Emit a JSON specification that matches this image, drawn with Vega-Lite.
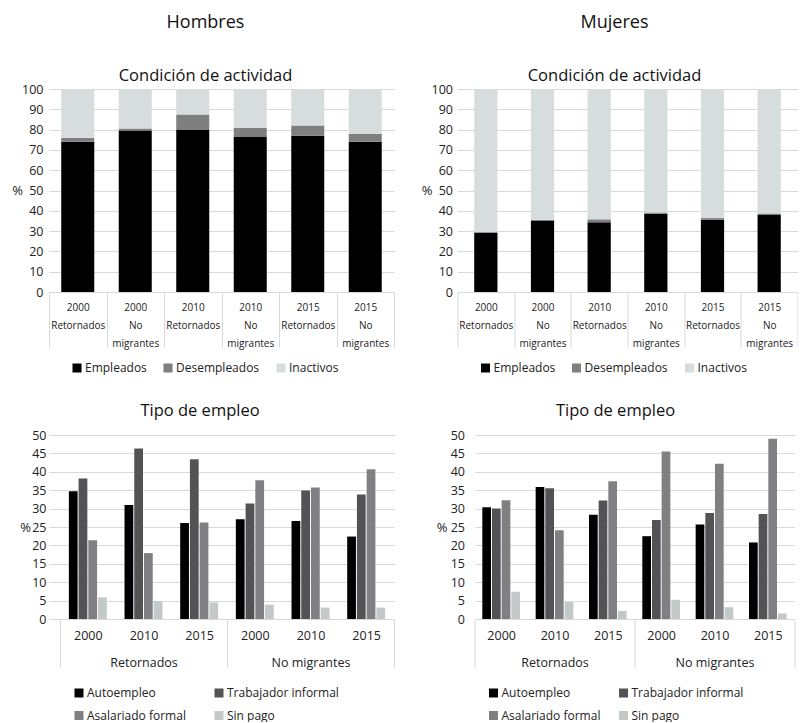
{
  "$schema": "https://vega.github.io/schema/vega-lite/v6.json",
  "padding": {"left": 11, "top": 13, "right": 0, "bottom": 0},
  "config": {
    "font": "Open Sans",
    "view": {"stroke": null},
    "axis": {"labelFont": "Open Sans", "titleFont": "Open Sans", "labelColor": "#222222", "titleColor": "#222222", "gridColor": "#d9d9d9", "gridWidth": 1},
    "legend": {"labelFont": "Open Sans", "labelColor": "#222222"},
    "title": {"font": "Open Sans", "subtitleFont": "Open Sans", "color": "#111111", "subtitleColor": "#111111", "fontWeight": "normal", "anchor": "middle", "frame": "group"}
  },
  "datasets": {
    "act_h": [
      {"anio": "2000", "grupo": "Retornados", "estado": "Empleados", "pct": 74.0},
      {"anio": "2000", "grupo": "Retornados", "estado": "Desempleados", "pct": 2.0},
      {"anio": "2000", "grupo": "Retornados", "estado": "Inactivos", "pct": 24.0},
      {"anio": "2000", "grupo": "No migrantes", "estado": "Empleados", "pct": 79.5},
      {"anio": "2000", "grupo": "No migrantes", "estado": "Desempleados", "pct": 1.0},
      {"anio": "2000", "grupo": "No migrantes", "estado": "Inactivos", "pct": 19.5},
      {"anio": "2010", "grupo": "Retornados", "estado": "Empleados", "pct": 80.0},
      {"anio": "2010", "grupo": "Retornados", "estado": "Desempleados", "pct": 7.5},
      {"anio": "2010", "grupo": "Retornados", "estado": "Inactivos", "pct": 12.5},
      {"anio": "2010", "grupo": "No migrantes", "estado": "Empleados", "pct": 76.3},
      {"anio": "2010", "grupo": "No migrantes", "estado": "Desempleados", "pct": 4.5},
      {"anio": "2010", "grupo": "No migrantes", "estado": "Inactivos", "pct": 19.2},
      {"anio": "2015", "grupo": "Retornados", "estado": "Empleados", "pct": 77.0},
      {"anio": "2015", "grupo": "Retornados", "estado": "Desempleados", "pct": 5.0},
      {"anio": "2015", "grupo": "Retornados", "estado": "Inactivos", "pct": 18.0},
      {"anio": "2015", "grupo": "No migrantes", "estado": "Empleados", "pct": 74.0},
      {"anio": "2015", "grupo": "No migrantes", "estado": "Desempleados", "pct": 4.0},
      {"anio": "2015", "grupo": "No migrantes", "estado": "Inactivos", "pct": 22.0}
    ],
    "act_m": [
      {"anio": "2000", "grupo": "Retornados", "estado": "Empleados", "pct": 29.1},
      {"anio": "2000", "grupo": "Retornados", "estado": "Desempleados", "pct": 0.4},
      {"anio": "2000", "grupo": "Retornados", "estado": "Inactivos", "pct": 70.5},
      {"anio": "2000", "grupo": "No migrantes", "estado": "Empleados", "pct": 35.2},
      {"anio": "2000", "grupo": "No migrantes", "estado": "Desempleados", "pct": 0.4},
      {"anio": "2000", "grupo": "No migrantes", "estado": "Inactivos", "pct": 64.4},
      {"anio": "2010", "grupo": "Retornados", "estado": "Empleados", "pct": 34.3},
      {"anio": "2010", "grupo": "Retornados", "estado": "Desempleados", "pct": 1.5},
      {"anio": "2010", "grupo": "Retornados", "estado": "Inactivos", "pct": 64.2},
      {"anio": "2010", "grupo": "No migrantes", "estado": "Empleados", "pct": 38.6},
      {"anio": "2010", "grupo": "No migrantes", "estado": "Desempleados", "pct": 0.6},
      {"anio": "2010", "grupo": "No migrantes", "estado": "Inactivos", "pct": 60.8},
      {"anio": "2015", "grupo": "Retornados", "estado": "Empleados", "pct": 35.5},
      {"anio": "2015", "grupo": "Retornados", "estado": "Desempleados", "pct": 0.9},
      {"anio": "2015", "grupo": "Retornados", "estado": "Inactivos", "pct": 63.6},
      {"anio": "2015", "grupo": "No migrantes", "estado": "Empleados", "pct": 37.9},
      {"anio": "2015", "grupo": "No migrantes", "estado": "Desempleados", "pct": 0.8},
      {"anio": "2015", "grupo": "No migrantes", "estado": "Inactivos", "pct": 61.3}
    ],
    "tipo_h": [
      {"grupo": "Retornados", "anio": "2000", "tipo": "Autoempleo", "pct": 34.7},
      {"grupo": "Retornados", "anio": "2000", "tipo": "Trabajador informal", "pct": 38.2},
      {"grupo": "Retornados", "anio": "2000", "tipo": "Asalariado formal", "pct": 21.4},
      {"grupo": "Retornados", "anio": "2000", "tipo": "Sin pago", "pct": 5.9},
      {"grupo": "Retornados", "anio": "2010", "tipo": "Autoempleo", "pct": 31.0},
      {"grupo": "Retornados", "anio": "2010", "tipo": "Trabajador informal", "pct": 46.3},
      {"grupo": "Retornados", "anio": "2010", "tipo": "Asalariado formal", "pct": 17.9},
      {"grupo": "Retornados", "anio": "2010", "tipo": "Sin pago", "pct": 4.9},
      {"grupo": "Retornados", "anio": "2015", "tipo": "Autoempleo", "pct": 26.1},
      {"grupo": "Retornados", "anio": "2015", "tipo": "Trabajador informal", "pct": 43.4},
      {"grupo": "Retornados", "anio": "2015", "tipo": "Asalariado formal", "pct": 26.2},
      {"grupo": "Retornados", "anio": "2015", "tipo": "Sin pago", "pct": 4.5},
      {"grupo": "No migrantes", "anio": "2000", "tipo": "Autoempleo", "pct": 27.1},
      {"grupo": "No migrantes", "anio": "2000", "tipo": "Trabajador informal", "pct": 31.4},
      {"grupo": "No migrantes", "anio": "2000", "tipo": "Asalariado formal", "pct": 37.7},
      {"grupo": "No migrantes", "anio": "2000", "tipo": "Sin pago", "pct": 3.9},
      {"grupo": "No migrantes", "anio": "2010", "tipo": "Autoempleo", "pct": 26.6},
      {"grupo": "No migrantes", "anio": "2010", "tipo": "Trabajador informal", "pct": 34.9},
      {"grupo": "No migrantes", "anio": "2010", "tipo": "Asalariado formal", "pct": 35.7},
      {"grupo": "No migrantes", "anio": "2010", "tipo": "Sin pago", "pct": 3.1},
      {"grupo": "No migrantes", "anio": "2015", "tipo": "Autoempleo", "pct": 22.4},
      {"grupo": "No migrantes", "anio": "2015", "tipo": "Trabajador informal", "pct": 33.8},
      {"grupo": "No migrantes", "anio": "2015", "tipo": "Asalariado formal", "pct": 40.7},
      {"grupo": "No migrantes", "anio": "2015", "tipo": "Sin pago", "pct": 3.1}
    ],
    "tipo_m": [
      {"grupo": "Retornados", "anio": "2000", "tipo": "Autoempleo", "pct": 30.4},
      {"grupo": "Retornados", "anio": "2000", "tipo": "Trabajador informal", "pct": 30.0},
      {"grupo": "Retornados", "anio": "2000", "tipo": "Asalariado formal", "pct": 32.3},
      {"grupo": "Retornados", "anio": "2000", "tipo": "Sin pago", "pct": 7.4},
      {"grupo": "Retornados", "anio": "2010", "tipo": "Autoempleo", "pct": 35.9},
      {"grupo": "Retornados", "anio": "2010", "tipo": "Trabajador informal", "pct": 35.5},
      {"grupo": "Retornados", "anio": "2010", "tipo": "Asalariado formal", "pct": 24.1},
      {"grupo": "Retornados", "anio": "2010", "tipo": "Sin pago", "pct": 4.6},
      {"grupo": "Retornados", "anio": "2015", "tipo": "Autoempleo", "pct": 28.3},
      {"grupo": "Retornados", "anio": "2015", "tipo": "Trabajador informal", "pct": 32.2},
      {"grupo": "Retornados", "anio": "2015", "tipo": "Asalariado formal", "pct": 37.4},
      {"grupo": "Retornados", "anio": "2015", "tipo": "Sin pago", "pct": 2.2},
      {"grupo": "No migrantes", "anio": "2000", "tipo": "Autoempleo", "pct": 22.5},
      {"grupo": "No migrantes", "anio": "2000", "tipo": "Trabajador informal", "pct": 26.9},
      {"grupo": "No migrantes", "anio": "2000", "tipo": "Asalariado formal", "pct": 45.5},
      {"grupo": "No migrantes", "anio": "2000", "tipo": "Sin pago", "pct": 5.2},
      {"grupo": "No migrantes", "anio": "2010", "tipo": "Autoempleo", "pct": 25.7},
      {"grupo": "No migrantes", "anio": "2010", "tipo": "Trabajador informal", "pct": 28.8},
      {"grupo": "No migrantes", "anio": "2010", "tipo": "Asalariado formal", "pct": 42.2},
      {"grupo": "No migrantes", "anio": "2010", "tipo": "Sin pago", "pct": 3.2},
      {"grupo": "No migrantes", "anio": "2015", "tipo": "Autoempleo", "pct": 20.8},
      {"grupo": "No migrantes", "anio": "2015", "tipo": "Trabajador informal", "pct": 28.5},
      {"grupo": "No migrantes", "anio": "2015", "tipo": "Asalariado formal", "pct": 49.0},
      {"grupo": "No migrantes", "anio": "2015", "tipo": "Sin pago", "pct": 1.5}
    ]
  },
  "align": "none",
  "spacing": 29,
  "resolve": {"scale": {"color": "independent", "x": "independent", "y": "independent", "xOffset": "independent"}, "legend": {"color": "independent"}},
  "vconcat": [
    {
      "spacing": 25.5,
      "resolve": {"scale": {"color": "independent", "x": "independent", "y": "independent"}, "legend": {"color": "independent"}},
      "hconcat": [
        {
          "width": 345,
          "height": 203,
          "title": {"text": "Hombres", "subtitle": "Condición de actividad", "fontSize": 18, "subtitleFontSize": 16.5, "subtitlePadding": 36, "offset": -1, "dx": -16},
          "data": {"name": "act_h"},
          "transform": [
            {"calculate": "datum.anio + '|' + datum.grupo", "as": "cat"},
            {"calculate": "datum.estado == 'Empleados' ? 0 : (datum.estado == 'Desempleados' ? 1 : 2)", "as": "orden"}
          ],
          "mark": {"type": "bar", "width": {"band": 0.574}},
          "encoding": {
            "x": {
              "field": "cat", "type": "nominal",
              "sort": ["2000|Retornados", "2000|No migrantes", "2010|Retornados", "2010|No migrantes", "2015|Retornados", "2015|No migrantes"],
              "scale": {"paddingInner": 0, "paddingOuter": 0},
              "axis": {
                "title": null, "labelAngle": 0, "labelOverlap": false,
                "domainColor": "#d9d9d9", "tickColor": "#d9d9d9", "tickBand": "extent", "tickSize": 55,
                "labelPadding": -44.5, "labelFontSize": 10, "labelLineHeight": 18, "labelBaseline": "top",
                "labelExpr": "datum.value == null ? '' : (split(datum.value, '|')[1] == 'No migrantes' ? [split(datum.value, '|')[0], 'No', 'migrantes'] : [split(datum.value, '|')[0], 'Retornados'])"
              }
            },
            "y": {
              "field": "pct", "type": "quantitative", "stack": "zero",
              "scale": {"domain": [0, 100], "nice": false},
              "axis": {
                "title": "%", "titleAngle": 0, "titleX": -32, "titleY": 101.5, "titleAlign": "center", "titleBaseline": "middle",
                "titleFontSize": 13, "titleFontWeight": "normal",
                "values": [0, 10, 20, 30, 40, 50, 60, 70, 80, 90, 100],
                "labelFontSize": 12.5, "labelPadding": 6, "domain": false, "ticks": false
              }
            },
            "color": {
              "field": "estado", "type": "nominal",
              "scale": {"domain": ["Empleados", "Desempleados", "Inactivos"], "range": ["#000000", "#7f7f7f", "#d7dcdc"]},
              "legend": {"title": null, "orient": "none", "legendX": 22, "legendY": 273, "direction": "horizontal", "symbolType": "square", "symbolSize": 81, "symbolStrokeWidth": 0, "labelFontSize": 12, "labelOffset": 2, "columnPadding": 15, "padding": 0}
            },
            "order": {"field": "orden", "type": "quantitative"}
          }
        },
        {
          "width": 340,
          "height": 203,
          "title": {"text": "Mujeres", "subtitle": "Condición de actividad", "fontSize": 18, "subtitleFontSize": 16.5, "subtitlePadding": 36, "offset": -1, "dx": -13},
          "data": {"name": "act_m"},
          "transform": [
            {"calculate": "datum.anio + '|' + datum.grupo", "as": "cat"},
            {"calculate": "datum.estado == 'Empleados' ? 0 : (datum.estado == 'Desempleados' ? 1 : 2)", "as": "orden"}
          ],
          "mark": {"type": "bar", "width": {"band": 0.41}},
          "encoding": {
            "x": {
              "field": "cat", "type": "nominal",
              "sort": ["2000|Retornados", "2000|No migrantes", "2010|Retornados", "2010|No migrantes", "2015|Retornados", "2015|No migrantes"],
              "scale": {"paddingInner": 0, "paddingOuter": 0},
              "axis": {
                "title": null, "labelAngle": 0, "labelOverlap": false,
                "domainColor": "#d9d9d9", "tickColor": "#d9d9d9", "tickBand": "extent", "tickSize": 55,
                "labelPadding": -44.5, "labelFontSize": 10, "labelLineHeight": 18, "labelBaseline": "top",
                "labelExpr": "datum.value == null ? '' : (split(datum.value, '|')[1] == 'No migrantes' ? [split(datum.value, '|')[0], 'No', 'migrantes'] : [split(datum.value, '|')[0], 'Retornados'])"
              }
            },
            "y": {
              "field": "pct", "type": "quantitative", "stack": "zero",
              "scale": {"domain": [0, 100], "nice": false},
              "axis": {
                "title": "%", "titleAngle": 0, "titleX": -31, "titleY": 101.5, "titleAlign": "center", "titleBaseline": "middle",
                "titleFontSize": 13, "titleFontWeight": "normal",
                "values": [0, 10, 20, 30, 40, 50, 60, 70, 80, 90, 100],
                "labelFontSize": 12.5, "labelPadding": 5, "domain": false, "ticks": false
              }
            },
            "color": {
              "field": "estado", "type": "nominal",
              "scale": {"domain": ["Empleados", "Desempleados", "Inactivos"], "range": ["#000000", "#7f7f7f", "#d7dcdc"]},
              "legend": {"title": null, "orient": "none", "legendX": 22, "legendY": 273, "direction": "horizontal", "symbolType": "square", "symbolSize": 81, "symbolStrokeWidth": 0, "labelFontSize": 12, "labelOffset": 2, "columnPadding": 15, "padding": 0}
            },
            "order": {"field": "orden", "type": "quantitative"}
          }
        }
      ]
    },
    {
      "spacing": 40.5,
      "resolve": {"scale": {"color": "independent", "x": "independent", "y": "independent", "xOffset": "independent"}, "legend": {"color": "independent"}},
      "hconcat": [
        {
          "width": 345,
          "height": 184,
          "title": {"text": "Tipo de empleo", "fontSize": 16.5, "offset": 9.5, "dx": -21.5},
          "data": {"name": "tipo_h"},
          "transform": [{"calculate": "datum.grupo + '|' + datum.anio", "as": "cat"}],
          "mark": {"type": "bar"},
          "encoding": {
            "x": {
              "field": "cat", "type": "nominal",
              "sort": ["Retornados|2000", "Retornados|2010", "Retornados|2015", "No migrantes|2000", "No migrantes|2010", "No migrantes|2015"],
              "scale": {"paddingInner": 0, "paddingOuter": 0.0988, "align": 1},
              "axis": {
                "title": null, "labelAngle": 0, "labelOverlap": false,
                "domainColor": "#d9d9d9", "tickColor": "#d9d9d9", "tickBand": "extent", "tickSize": 48,
                "tickOpacity": {"condition": {"test": "datum.extra || datum.value == null || split(datum.value, '|')[1] == '2015'", "value": 1}, "value": 0},
                "labelPadding": -38, "labelFontSize": 12.5, "labelLineHeight": 27, "labelBaseline": "top",
                "labelExpr": "datum.value == null ? '' : (split(datum.value, '|')[1] == '2010' ? [split(datum.value, '|')[1], split(datum.value, '|')[0]] : split(datum.value, '|')[1])"
              }
            },
            "xOffset": {
              "field": "tipo", "type": "nominal",
              "sort": ["Autoempleo", "Trabajador informal", "Asalariado formal", "Sin pago"],
              "scale": {"paddingInner": 0.1, "paddingOuter": 0.91}
            },
            "y": {
              "field": "pct", "type": "quantitative",
              "scale": {"domain": [0, 50], "nice": false},
              "axis": {
                "title": "%", "titleAngle": 0, "titleX": -24, "titleY": 92, "titleAlign": "center", "titleBaseline": "middle",
                "titleFontSize": 13, "titleFontWeight": "normal",
                "values": [0, 5, 10, 15, 20, 25, 30, 35, 40, 45, 50],
                "labelFontSize": 12.5, "labelPadding": 3, "domain": false, "ticks": false
              }
            },
            "color": {
              "field": "tipo", "type": "nominal",
              "scale": {"domain": ["Autoempleo", "Trabajador informal", "Asalariado formal", "Sin pago"], "range": ["#000000", "#535356", "#808083", "#c3c9c9"]},
              "legend": {"title": null, "orient": "none", "legendX": 24, "legendY": 252, "direction": "horizontal", "columns": 2, "symbolType": "square", "symbolSize": 81, "symbolStrokeWidth": 0, "labelFontSize": 12, "labelOffset": 2, "columnPadding": 27, "rowPadding": 10.5, "padding": 0}
            }
          }
        },
        {
          "width": 320,
          "height": 184,
          "title": {"text": "Tipo de empleo", "fontSize": 16.5, "offset": 9.5, "dx": -19},
          "data": {"name": "tipo_m"},
          "transform": [{"calculate": "datum.grupo + '|' + datum.anio", "as": "cat"}],
          "mark": {"type": "bar"},
          "encoding": {
            "x": {
              "field": "cat", "type": "nominal",
              "sort": ["Retornados|2000", "Retornados|2010", "Retornados|2015", "No migrantes|2000", "No migrantes|2010", "No migrantes|2015"],
              "scale": {"paddingInner": 0, "paddingOuter": 0},
              "axis": {
                "title": null, "labelAngle": 0, "labelOverlap": false,
                "domainColor": "#d9d9d9", "tickColor": "#d9d9d9", "tickBand": "extent", "tickSize": 48,
                "tickOpacity": {"condition": {"test": "datum.extra || datum.value == null || split(datum.value, '|')[1] == '2015'", "value": 1}, "value": 0},
                "labelPadding": -38, "labelFontSize": 12.5, "labelLineHeight": 27, "labelBaseline": "top",
                "labelExpr": "datum.value == null ? '' : (split(datum.value, '|')[1] == '2010' ? [split(datum.value, '|')[1], split(datum.value, '|')[0]] : split(datum.value, '|')[1])"
              }
            },
            "xOffset": {
              "field": "tipo", "type": "nominal",
              "sort": ["Autoempleo", "Trabajador informal", "Asalariado formal", "Sin pago"],
              "scale": {"paddingInner": 0.1, "paddingOuter": 0.81}
            },
            "y": {
              "field": "pct", "type": "quantitative",
              "scale": {"domain": [0, 50], "nice": false},
              "axis": {
                "title": "%", "titleAngle": 0, "titleX": -33, "titleY": 92, "titleAlign": "center", "titleBaseline": "middle",
                "titleFontSize": 13, "titleFontWeight": "normal",
                "values": [0, 5, 10, 15, 20, 25, 30, 35, 40, 45, 50],
                "labelFontSize": 12.5, "labelPadding": 10, "domain": false, "ticks": false
              }
            },
            "color": {
              "field": "tipo", "type": "nominal",
              "scale": {"domain": ["Autoempleo", "Trabajador informal", "Asalariado formal", "Sin pago"], "range": ["#000000", "#535356", "#808083", "#c3c9c9"]},
              "legend": {"title": null, "orient": "none", "legendX": 13, "legendY": 252, "direction": "horizontal", "columns": 2, "symbolType": "square", "symbolSize": 81, "symbolStrokeWidth": 0, "labelFontSize": 12, "labelOffset": 2, "columnPadding": 17, "rowPadding": 10.5, "padding": 0}
            }
          }
        }
      ]
    }
  ]
}
